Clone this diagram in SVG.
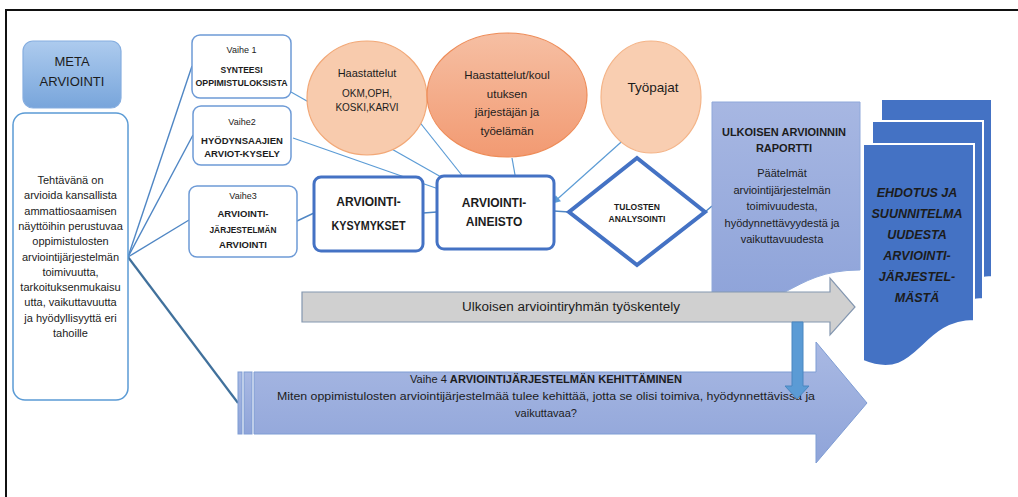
<svg xmlns="http://www.w3.org/2000/svg" width="1018" height="497" viewBox="0 0 1018 497">
<style>
text{font-family:"Liberation Sans",Arial,sans-serif;fill:#1c1c1c;text-anchor:middle}
.b{font-weight:bold}
.vbox{fill:#fff;stroke:#6d9ad6;stroke-width:1.5}
.tbox{fill:#fff;stroke:#4472c4;stroke-width:3}
.ln{stroke:#4f86c4;stroke-width:1.4;fill:none}
.ar{stroke:#5b9bd5;stroke-width:1.2;fill:none;marker-end:url(#ah)}
</style>
<defs>
<linearGradient id="gMeta" x1="0" y1="0" x2="0" y2="1"><stop offset="0" stop-color="#adcbee"/><stop offset="1" stop-color="#78a5db"/></linearGradient>
<linearGradient id="gRep" x1="0" y1="0" x2="0" y2="1"><stop offset="0" stop-color="#a7b7e2"/><stop offset="1" stop-color="#8ea3d9"/></linearGradient>
<linearGradient id="gArr" x1="0" y1="0" x2="0" y2="1"><stop offset="0" stop-color="#a9b9e3"/><stop offset="1" stop-color="#8fa4d9"/></linearGradient>
<linearGradient id="gC2" x1="0" y1="0" x2="0" y2="1"><stop offset="0" stop-color="#f6bfa3"/><stop offset="1" stop-color="#f29a72"/></linearGradient>
<marker id="ah" viewBox="0 0 10 10" refX="9" refY="5" markerWidth="9" markerHeight="8" markerUnits="userSpaceOnUse" orient="auto"><path d="M0,0 L10,5 L0,10 Z" fill="#5b9bd5"/></marker>
</defs>

<g id="frame" stroke="#111" stroke-width="2" fill="none">
<path d="M5,10 H1018 M6,10 V497"/>
</g>

<g id="connectors">
<path class="ln" d="M128,257 L192,66"/>
<path class="ln" d="M128,257 L193,135"/>
<path class="ln" d="M128,257 L189,220"/>
<path d="M128,257 L238,403" stroke="#41719c" stroke-width="2.2" fill="none"/>
<path class="ln" d="M297,221 L314,213"/>
<path class="ln" d="M423,213 L437,212"/>
<path class="ln" d="M554,211 L569,212"/>
<path class="ln" d="M705,212 L712,206"/>
<path class="ar" d="M291,92 L457,186"/>
<path class="ar" d="M293,138 L450,193"/>
<path class="ar" d="M410,110 L476,193"/>
<path class="ar" d="M512,158 L517,186"/>
<path class="ar" d="M638,127 L553,203"/>
</g>

<g id="meta">
<rect x="23" y="41" width="98" height="67" rx="10" fill="url(#gMeta)" stroke="#86aee0" stroke-width="1.2"/>
<text x="72" y="66" font-size="13">META</text>
<text x="72" y="86" font-size="13">ARVIOINTI</text>
</g>

<g id="task">
<rect x="13" y="113" width="115" height="287" rx="12" fill="#fff" stroke="#5b9bd5" stroke-width="1.5"/>
<g font-size="11">
<text x="70.5" y="184">Tehtävänä on</text>
<text x="70.5" y="199.3">arvioida kansallista</text>
<text x="70.5" y="214.6">ammattiosaamisen</text>
<text x="70.5" y="229.9">näyttöihin perustuvaa</text>
<text x="70.5" y="245.2">oppimistulosten</text>
<text x="70.5" y="260.5">arviointijärjestelmän</text>
<text x="70.5" y="275.8">toimivuutta,</text>
<text x="70.5" y="291.1">tarkoituksenmukaisu</text>
<text x="70.5" y="306.4">utta, vaikuttavuutta</text>
<text x="70.5" y="321.7">ja hyödyllisyyttä eri</text>
<text x="70.5" y="337">tahoille</text>
</g>
</g>

<g id="vaihe1">
<rect class="vbox" x="192" y="35" width="99" height="63" rx="8"/>
<text x="241.5" y="53" font-size="9">Vaihe 1</text>
<text class="b" x="241.5" y="73" font-size="8.5">SYNTEESI</text>
<text class="b" x="241.5" y="85.5" font-size="8.5" textLength="92" lengthAdjust="spacingAndGlyphs">OPPIMISTULOKSISTA</text>
</g>

<g id="vaihe2">
<rect class="vbox" x="193" y="106" width="98" height="59" rx="8"/>
<text x="242" y="125" font-size="9">Vaihe2</text>
<text class="b" x="242" y="143.5" font-size="9.5">HYÖDYNSAAJIEN</text>
<text class="b" x="242" y="157" font-size="9.5">ARVIOT-KYSELY</text>
</g>

<g id="vaihe3">
<rect class="vbox" x="189" y="186" width="108" height="71" rx="8"/>
<text x="243" y="198.5" font-size="9">Vaihe3</text>
<text class="b" x="243" y="217" font-size="9.5">ARVIOINTI-</text>
<text class="b" x="243" y="232.5" font-size="9.5" textLength="67" lengthAdjust="spacingAndGlyphs">JÄRJESTELMÄN</text>
<text class="b" x="243" y="248" font-size="9.5">ARVIOINTI</text>
</g>

<g id="haastattelut1">
<ellipse cx="367" cy="98" rx="60" ry="57" fill="#f8cbad" stroke="#f2a877" stroke-width="1.2"/>
<text x="367" y="77" font-size="11">Haastattelut</text>
<text x="367" y="97" font-size="10">OKM,OPH,</text>
<text x="367" y="111" font-size="10">KOSKI,KARVI</text>
</g>

<g id="haastattelut2">
<ellipse cx="507" cy="95" rx="80" ry="62" fill="url(#gC2)" stroke="#ee8c58" stroke-width="1.2"/>
<text x="507" y="79" font-size="11.5">Haastattelut/koul</text>
<text x="507" y="97.5" font-size="11.5">utuksen</text>
<text x="507" y="116" font-size="11.5">järjestäjän ja</text>
<text x="507" y="134.5" font-size="11.5">työelämän</text>
</g>

<g id="tyopajat">
<ellipse cx="651" cy="97" rx="50" ry="56" fill="#f9ceb1" stroke="#f4b488" stroke-width="1.2"/>
<text x="653" y="92" font-size="13.5">Työpajat</text>
</g>

<g id="kysymykset">
<rect class="tbox" x="314" y="177" width="109" height="74" rx="7"/>
<text class="b" x="368.5" y="206" font-size="12">ARVIOINTI-</text>
<text class="b" x="368.5" y="230" font-size="12" textLength="74" lengthAdjust="spacingAndGlyphs">KYSYMYKSET</text>
</g>

<g id="aineisto">
<rect class="tbox" x="437" y="176" width="117" height="73" rx="7"/>
<text class="b" x="494" y="207" font-size="12">ARVIOINTI-</text>
<text class="b" x="494" y="226" font-size="12">AINEISTO</text>
</g>

<g id="analysointi">
<polygon points="637,158 705,212 637,265 569,212" fill="#fff" stroke="#4472c4" stroke-width="4" stroke-linejoin="miter"/>
<text class="b" x="637" y="210" font-size="8.5">TULOSTEN</text>
<text class="b" x="637" y="222" font-size="8.5">ANALYSOINTI</text>
</g>

<g id="raportti">
<path d="M712,102 H860 V270 C786,270 786,318 712,298 Z" fill="url(#gRep)" stroke="#8fa8da" stroke-width="1"/>
<text class="b" x="784" y="136" font-size="11">ULKOISEN ARVIOINNIN</text>
<text class="b" x="784" y="152" font-size="11">RAPORTTI</text>
<g font-size="11">
<text x="782" y="177">Päätelmät</text>
<text x="782" y="193.5">arviointijärjestelmän</text>
<text x="782" y="210">toimivuudesta,</text>
<text x="782" y="226.5">hyödynnettävyydestä ja</text>
<text x="782" y="243">vaikuttavuudesta</text>
</g>
</g>

<g id="ehdotus">
<path d="M881,99 H992 V277 C946,277 946,341 881,317 Z" fill="#4472c4" stroke="#fff" stroke-width="2"/>
<path d="M872,121 H983 V299 C937,299 937,363 872,339 Z" fill="#4472c4" stroke="#fff" stroke-width="2"/>
<path d="M863,144 H974 V321 C919,321 919,384 863,361 Z" fill="#4472c4" stroke="#fff" stroke-width="2"/>
<g class="b" font-size="12.5" font-style="italic">
<text x="917" y="197">EHDOTUS JA</text>
<text x="917" y="218">SUUNNITELMA</text>
<text x="917" y="239">UUDESTA</text>
<text x="917" y="260">ARVIOINTI-</text>
<text x="917" y="281">JÄRJESTEL-</text>
<text x="917" y="302">MÄSTÄ</text>
</g>
</g>

<g id="tyoskentely">
<path d="M302,292 H830 V278 L855,307 L830,335 V322 H302 Z" fill="#d0d0d0" stroke="#8497b0" stroke-width="1.2"/>
<text x="571" y="311" font-size="12" textLength="218" lengthAdjust="spacingAndGlyphs">Ulkoisen arviointiryhmän työskentely</text>
</g>

<g id="vaihe4">
<rect x="238" y="372" width="4" height="62" fill="url(#gArr)" stroke="#7f9dd4" stroke-width="1"/>
<rect x="244" y="372" width="8" height="62" fill="url(#gArr)" stroke="#7f9dd4" stroke-width="1"/>
<path d="M254,372 H816 V342 L867,403 L816,463 V434 H254 Z" fill="url(#gArr)" stroke="#7f9dd4" stroke-width="1"/>
<text x="546" y="383" font-size="11" textLength="272" lengthAdjust="spacingAndGlyphs">Vaihe 4 <tspan class="b">ARVIOINTIJÄRJESTELMÄN KEHITTÄMINEN</tspan></text>
<text x="546" y="400" font-size="11" textLength="538" lengthAdjust="spacingAndGlyphs">Miten oppimistulosten arviointijärjestelmää tulee kehittää, jotta se olisi toimiva, hyödynnettävissä  ja</text>
<text x="546" y="417" font-size="11">vaikuttavaa?</text>
</g>

<g id="alasnuoli">
<path d="M792,322 H803 V386 H809 L797,399 L785,386 H792 Z" fill="#5b9bd5" stroke="#4a86c0" stroke-width="1"/>
</g>
</svg>
